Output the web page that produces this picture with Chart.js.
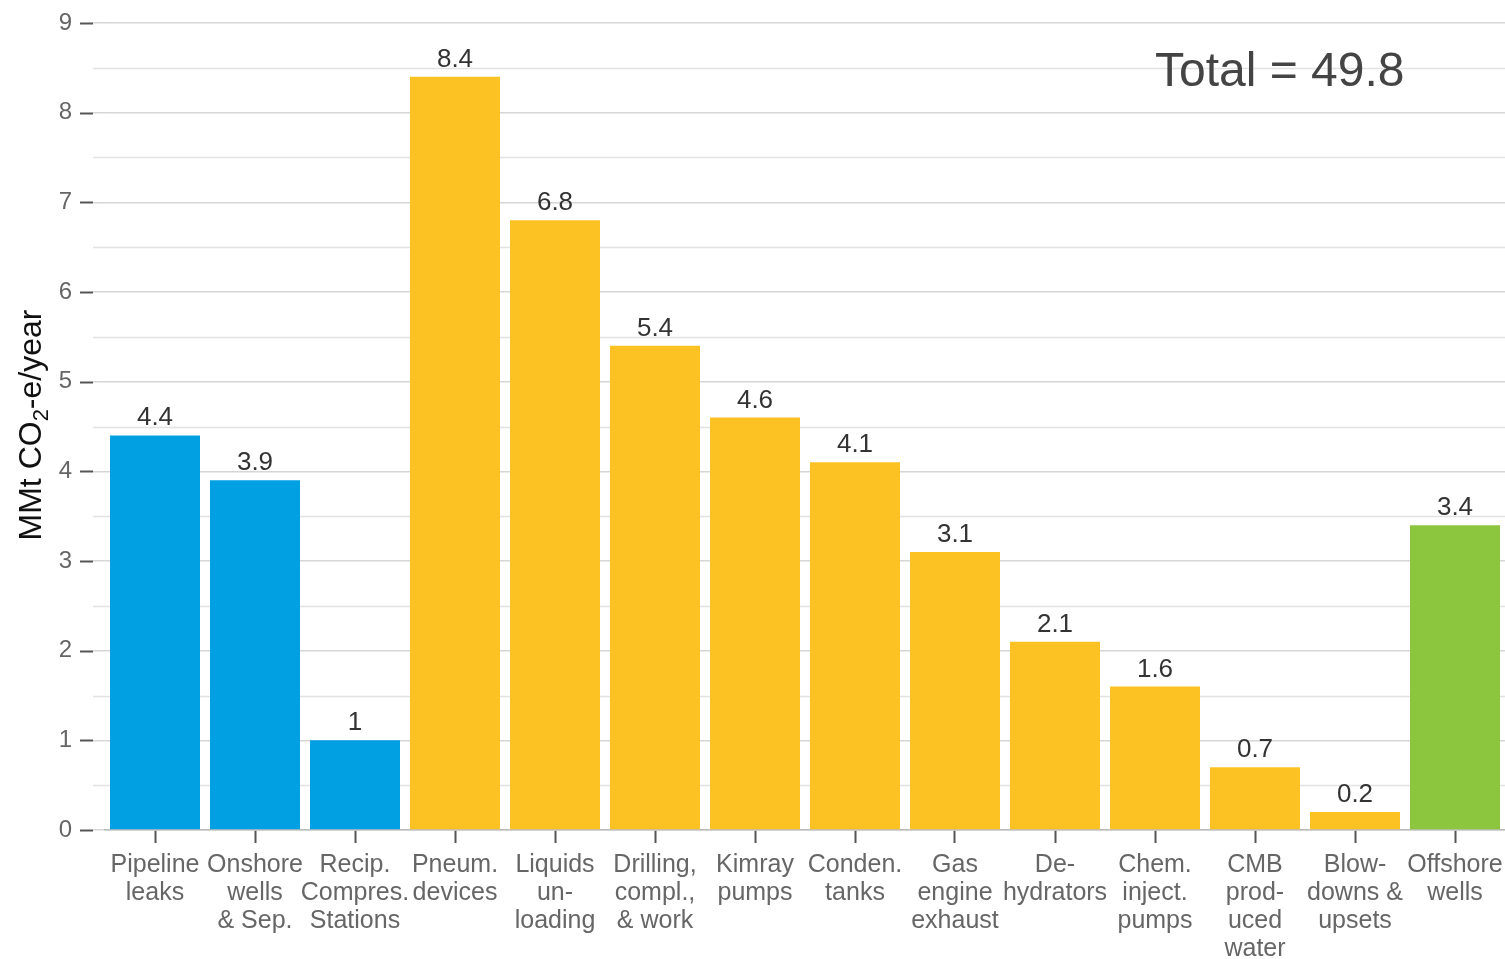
<!DOCTYPE html>
<html>
<head>
<meta charset="utf-8">
<script src="https://cdn.jsdelivr.net/npm/chart.js@4/dist/chart.umd.min.js"></script>
<style>
  html, body { margin: 0; padding: 0; background: #fff; }
  #wrap { width: 1505px; height: 959px; position: relative; }
</style>
</head>
<body>
<div id="wrap"><canvas id="emissions"></canvas></div>
<script>
const categories = [
  ["Pipeline", "leaks"],
  ["Onshore", "wells", "& Sep."],
  ["Recip.", "Compres.", "Stations"],
  ["Pneum.", "devices"],
  ["Liquids", "un-", "loading"],
  ["Drilling,", "compl.,", "& work"],
  ["Kimray", "pumps"],
  ["Conden.", "tanks"],
  ["Gas", "engine", "exhaust"],
  ["De-", "hydrators"],
  ["Chem.", "inject.", "pumps"],
  ["CMB", "prod-", "uced", "water"],
  ["Blow-", "downs &", "upsets"],
  ["Offshore", "wells"],
];
const values = [4.4, 3.9, 1, 8.4, 6.8, 5.4, 4.6, 4.1, 3.1, 2.1, 1.6, 0.7, 0.2, 3.4];
const sectors = [
  "transmission", "transmission", "transmission",
  "production", "production", "production", "production", "production",
  "production", "production", "production", "production", "production",
  "offshore",
];
const totalLabel = "Total = 49.8";
const yTicks = [0, 1, 2, 3, 4, 5, 6, 7, 8, 9];

const sectorColors = {
  transmission: "#00A0E2",
  production: "#FCC224",
  offshore: "#8CC63F",
};

const FONT = "'Liberation Sans', Arial, sans-serif";

// value labels, half-step grid lines, axis dashes, y title and total
const decorations = {
  id: "decorations",
  beforeDatasetsDraw(chart) {
    const { ctx, chartArea, scales } = chart;
    const y = scales.y;
    ctx.save();
    ctx.strokeStyle = "#e2e2e2";
    ctx.lineWidth = 1.5;
    for (let v = 0.5; v < 9; v += 1) {
      const py = Math.round(y.getPixelForValue(v)) + 0.5;
      ctx.beginPath();
      ctx.moveTo(chartArea.left - 12, py);
      ctx.lineTo(chartArea.right, py);
      ctx.stroke();
    }
    ctx.strokeStyle = "#555";
    ctx.lineWidth = 2;
    yTicks.forEach((v) => {
      const py = Math.round(y.getPixelForValue(v)) + 0.5;
      ctx.beginPath();
      ctx.moveTo(chartArea.left - 25, py);
      ctx.lineTo(chartArea.left - 12, py);
      ctx.stroke();
    });
    ctx.restore();
  },
  afterDatasetsDraw(chart) {
    const { ctx } = chart;
    const meta = chart.getDatasetMeta(0);
    ctx.save();
    ctx.fillStyle = "#333";
    ctx.font = `26px ${FONT}`;
    ctx.textAlign = "center";
    ctx.textBaseline = "alphabetic";
    meta.data.forEach((bar, i) => {
      ctx.fillText(String(values[i]), bar.x, bar.y - 10);
    });

    // total
    ctx.fillStyle = "#444";
    ctx.font = `48px ${FONT}`;
    ctx.textAlign = "left";
    ctx.fillText(totalLabel, 1155, 86);

    // y axis title with subscript
    ctx.translate(41, 425);
    ctx.rotate(-Math.PI / 2);
    ctx.fillStyle = "#111";
    const big = `32px ${FONT}`;
    const small = `22px ${FONT}`;
    const parts = [
      { t: "MMt CO", f: big, dy: 0 },
      { t: "2", f: small, dy: 7 },
      { t: "-e/year", f: big, dy: 0 },
    ];
    let total = 0;
    parts.forEach((p) => {
      ctx.font = p.f;
      p.w = ctx.measureText(p.t).width;
      total += p.w;
    });
    let x = -total / 2;
    parts.forEach((p) => {
      ctx.font = p.f;
      ctx.fillText(p.t, x, p.dy);
      x += p.w;
    });
    ctx.restore();
  },
};

new Chart(document.getElementById("emissions"), {
  type: "bar",
  data: {
    labels: categories,
    datasets: [
      {
        data: values,
        backgroundColor: sectors.map((s) => sectorColors[s]),
        barPercentage: 0.9,
        categoryPercentage: 1,
      },
    ],
  },
  options: {
    responsive: true,
    maintainAspectRatio: false,
    animation: false,
    layout: { padding: { top: 23, right: 0, left: 0, bottom: 0 } },
    plugins: {
      legend: { display: false },
      tooltip: { enabled: false },
    },
    scales: {
      x: {
        grid: {
          offset: false,
          drawOnChartArea: false,
          drawTicks: true,
          tickLength: 13,
          tickColor: "#555",
          tickWidth: 2,
        },
        border: { display: true, color: "#bbb", width: 1.5 },
        ticks: {
          color: "#666",
          padding: 8,
          maxRotation: 0,
          autoSkip: false,
          font: { family: FONT, size: 25, lineHeight: 1.12 },
        },
        afterFit: (scale) => {
          scale.height = 129;
          scale.paddingLeft = 0;
          scale.paddingRight = 0;
        },
      },
      y: {
        min: 0,
        max: 9,
        ticks: {
          stepSize: 1,
          color: "#666",
          padding: 21,
          font: { family: FONT, size: 24 },
        },
        grid: {
          color: "#d6d6d6",
          lineWidth: 1.5,
          tickLength: 12,
          tickColor: "#d6d6d6",
        },
        border: { display: false },
        afterFit: (scale) => {
          scale.width = 105;
          scale.paddingTop = 0;
          scale.paddingBottom = 0;
        },
      },
    },
  },
  plugins: [decorations],
});
</script>
</body>
</html>
